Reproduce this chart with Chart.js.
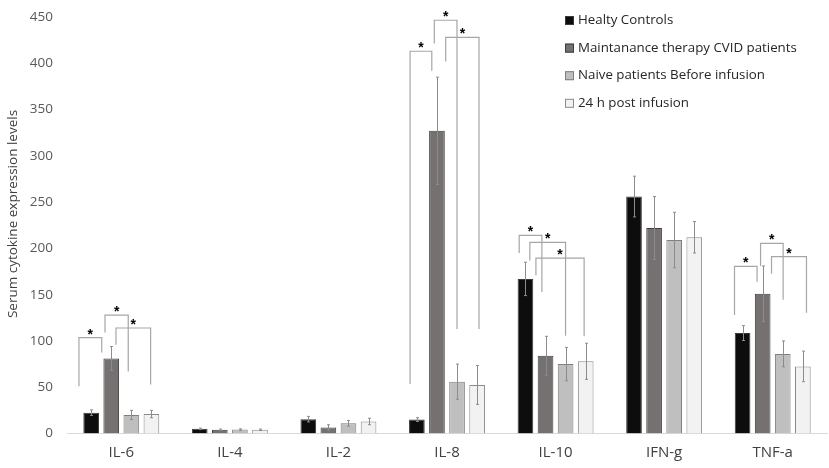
<!DOCTYPE html>
<html>
<head>
<meta charset="utf-8">
<script src="https://cdn.jsdelivr.net/npm/chart.js@4/dist/chart.umd.min.js"></script>
<style>
  html, body { margin: 0; padding: 0; background: #fff; }
  #wrap { width: 829px; height: 468px; position: relative; }
</style>
</head>
<body>
<div id="wrap"><canvas id="js--chart"></canvas></div>
<script>
// categories and groups
const cytokines = ["IL-6", "IL-4", "IL-2", "IL-8", "IL-10", "IFN-g", "TNF-a"];
const groupNames = [
    "Healty Controls",
    "Maintanance therapy CVID patients",
    "Naive patients Before infusion",
    "24 h post infusion"
];
const yTitle = "Serum cytokine expression levels";

// mean values
const healthyControls = [22.5, 5, 15.5, 15, 167, 256, 108.5];
const maintenanceCvid = [81, 4, 6.5, 327, 84, 222, 151];
const naiveBefore = [20, 4.2, 11, 56, 75, 209, 86];
const postInfusion = [21, 4, 13, 52.5, 78, 212, 72.5];

// error bar half widths
const healthyErr = [3, 0.8, 3, 2, 18, 22, 8];
const maintenanceErr = [13, 0.8, 3, 58, 21, 34, 30];
const naiveErr = [5, 0.8, 3, 19, 18, 30, 14];
const postErr = [4, 0.8, 3.5, 21, 19.5, 17, 16.5];

const yTicks = [0, 50, 100, 150, 200, 250, 300, 350, 400, 450];

// significance brackets: category, leg offsets (fraction of category width), leg ends and top in data units
const sigBrackets = [
    { cat: 0, left: -0.39, right: -0.18, leftEnd: 51, rightEnd: 87.5, top: 103.5 },
    { cat: 0, left: -0.15, right: 0.064, leftEnd: 109, rightEnd: 67, top: 128 },
    { cat: 0, left: -0.049, right: 0.27, leftEnd: 96, rightEnd: 53, top: 114 },
    { cat: 3, left: -0.34, right: -0.14, leftEnd: 53.6, rightEnd: 392, top: 413 },
    { cat: 3, left: -0.117, right: 0.092, leftEnd: 421.5, rightEnd: 113, top: 446.5 },
    { cat: 3, left: -0.012, right: 0.295, leftEnd: 402, rightEnd: 113, top: 428 },
    { cat: 4, left: -0.335, right: -0.126, leftEnd: 195, rightEnd: 153, top: 214 },
    { cat: 4, left: -0.237, right: 0.092, leftEnd: 187, rightEnd: 105.5, top: 206.5 },
    { cat: 4, left: -0.181, right: 0.263, leftEnd: 171, rightEnd: 105, top: 189.5 },
    { cat: 6, left: -0.352, right: -0.144, leftEnd: 128, rightEnd: 164, top: 180.5 },
    { cat: 6, left: -0.112, right: 0.096, leftEnd: 181, rightEnd: 144.5, top: 205.5 },
    { cat: 6, left: -0.011, right: 0.311, leftEnd: 172.5, rightEnd: 130.5, top: 191 }
];

const fillColors = ["#0d0d0d", "#767171", "#bfbfbf", "#f2f2f2"];
const edgeColors = ["#3a3a3a", "#3f3d3d", "#7f7f7f", "#8a8a8a"];
const seriesValues = [healthyControls, maintenanceCvid, naiveBefore, postInfusion];
const seriesErrors = [healthyErr, maintenanceErr, naiveErr, postErr];
const fontName = "'Open Sans', 'Noto Sans', sans-serif";

const extrasPlugin = {
    id: "extras",
    afterDatasetsDraw(chart) {
        const ctx = chart.ctx;
        const yScale = chart.scales.y;
        const xScale = chart.scales.x;

        // error bars
        ctx.save();
        ctx.strokeStyle = "#8c8c8c";
        ctx.lineWidth = 1;
        chart.data.datasets.forEach(function (ds, i) {
            const meta = chart.getDatasetMeta(i);
            meta.data.forEach(function (bar, j) {
                const v = ds.data[j];
                const e = seriesErrors[i][j];
                const x = Math.round(bar.x) + 0.5;
                const yHi = yScale.getPixelForValue(v + e);
                const yLo = yScale.getPixelForValue(Math.max(0, v - e));
                ctx.beginPath();
                ctx.moveTo(x, yLo);
                ctx.lineTo(x, yHi);
                ctx.moveTo(x - 1.5, yHi);
                ctx.lineTo(x + 1.5, yHi);
                ctx.moveTo(x - 1.5, yLo);
                ctx.lineTo(x + 1.5, yLo);
                ctx.stroke();
            });
        });
        ctx.restore();

        // significance brackets
        const catWidth = xScale.width / cytokines.length;
        ctx.save();
        ctx.strokeStyle = "#a6a6a6";
        ctx.lineWidth = 1.2;
        ctx.fillStyle = "#000";
        ctx.font = "bold 14px Arial, 'Liberation Sans', sans-serif";
        ctx.textAlign = "center";
        ctx.textBaseline = "top";
        sigBrackets.forEach(function (b) {
            const cx = xScale.getPixelForValue(b.cat);
            const x1 = cx + b.left * catWidth;
            const x2 = cx + b.right * catWidth;
            const yTop = yScale.getPixelForValue(b.top);
            ctx.beginPath();
            ctx.moveTo(x1, yScale.getPixelForValue(b.leftEnd));
            ctx.lineTo(x1, yTop);
            ctx.lineTo(x2, yTop);
            ctx.lineTo(x2, yScale.getPixelForValue(b.rightEnd));
            ctx.stroke();
            ctx.fillText("*", (x1 + x2) / 2, yTop - 10);
        });
        ctx.restore();

        // y axis title, placed like the original (a bit above the plot middle)
        ctx.save();
        ctx.font = "13.5px " + fontName;
        ctx.fillStyle = "#404040";
        ctx.textAlign = "center";
        ctx.textBaseline = "middle";
        ctx.translate(13, 214);
        ctx.rotate(-Math.PI / 2);
        ctx.fillText(yTitle, 0, 0);
        ctx.restore();

        // legend
        ctx.save();
        ctx.font = "13.3px " + fontName;
        ctx.textBaseline = "middle";
        ctx.textAlign = "left";
        chart.data.datasets.forEach(function (ds, i) {
            const ly = 20.5 + i * 27.6;
            ctx.fillStyle = ds.backgroundColor;
            ctx.fillRect(565, ly - 4.5, 9, 9);
            ctx.strokeStyle = ds.borderColor;
            ctx.lineWidth = 1;
            ctx.strokeRect(565.5, ly - 4, 8, 8);
            ctx.fillStyle = "#262626";
            ctx.fillText(ds.label, 578, ly);
        });
        ctx.restore();
    }
};

const datasets = seriesValues.map(function (vals, i) {
    return {
        label: groupNames[i],
        data: vals,
        backgroundColor: fillColors[i],
        borderColor: edgeColors[i],
        borderWidth: 1,
        categoryPercentage: 0.74,
        barPercentage: 0.78
    };
});

new Chart(document.getElementById("js--chart"), {
    type: "bar",
    data: { labels: cytokines, datasets: datasets },
    options: {
        responsive: true,
        maintainAspectRatio: false,
        animation: false,
        layout: { padding: { top: 17, right: 2, left: 0, bottom: 0 } },
        plugins: {
            legend: { display: false },
            tooltip: { enabled: false }
        },
        scales: {
            x: {
                grid: { display: false, drawTicks: false },
                border: { display: true, color: "#d9d9d9", width: 1 },
                ticks: {
                    color: "#404040",
                    font: { family: fontName, size: 15 },
                    padding: 10
                },
                afterFit: function (scale) { scale.height = 34.5; }
            },
            y: {
                min: 0,
                max: 450,
                grid: { display: false, drawTicks: false },
                border: { display: false },
                afterBuildTicks: function (scale) {
                    scale.ticks = yTicks.map(function (v) { return { value: v }; });
                },
                ticks: {
                    color: "#595959",
                    font: { family: fontName, size: 13.5 },
                    padding: 14
                },
                afterFit: function (scale) {
                    scale.width = 67;
                    scale.paddingTop = 0;
                    scale.paddingBottom = 0;
                }
            }
        }
    },
    plugins: [extrasPlugin]
});
</script>
</body>
</html>
